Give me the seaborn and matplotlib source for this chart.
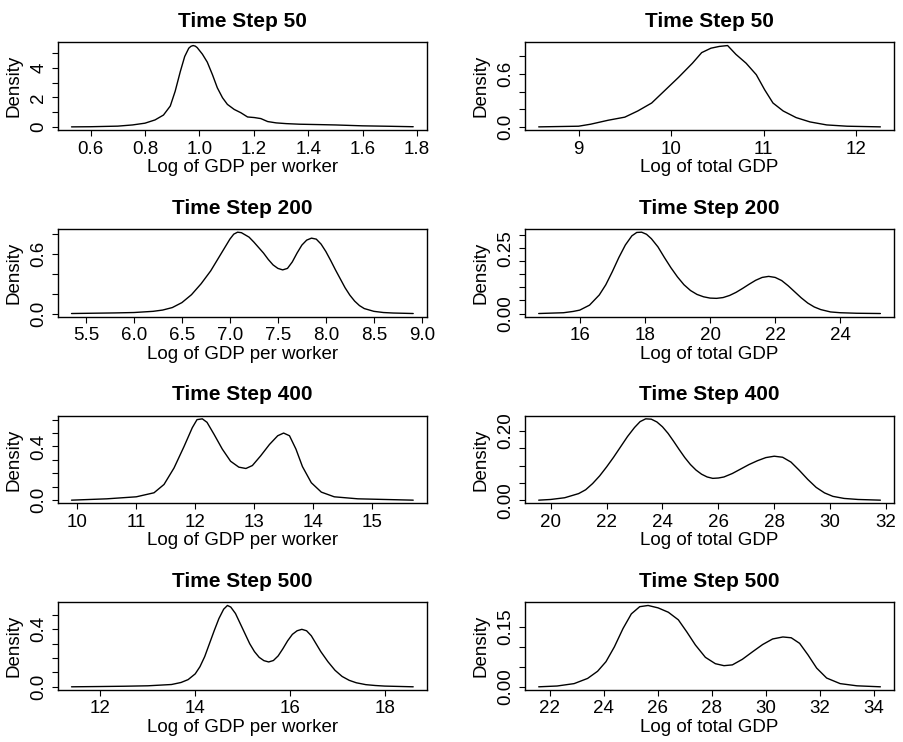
import pandas as pd
import seaborn as sns
import matplotlib
matplotlib.use("Agg")
import matplotlib.pyplot as plt

TITLES = ["Time Step 50", "Time Step 200", "Time Step 400", "Time Step 500"]
XLABEL_LEFT = "Log of GDP per worker"
XLABEL_RIGHT = "Log of total GDP"

# density curves: GDP per worker (left column)
PW50_X = [0.53, 0.60, 0.70, 0.754, 0.80, 0.837, 0.868, 0.893, 0.911, 0.93, 0.946, 0.961,
          0.969, 0.977, 0.985, 0.992, 1.011, 1.029, 1.048, 1.066, 1.085, 1.103, 1.128, 1.152,
          1.177, 1.202, 1.226, 1.251, 1.282, 1.319, 1.368, 1.45, 1.50, 1.60, 1.70, 1.786]
PW50_Y = [0.0, 0.01, 0.05, 0.13, 0.25, 0.47, 0.80, 1.41, 2.41, 3.75, 4.76, 5.32,
          5.45, 5.50, 5.46, 5.36, 4.92, 4.38, 3.53, 2.64, 1.97, 1.52, 1.18, 0.96,
          0.67, 0.63, 0.56, 0.36, 0.27, 0.22, 0.18, 0.15, 0.13, 0.07, 0.04, 0.01]

PW200_X = [5.35, 5.5, 5.8, 6.0, 6.2, 6.3, 6.4, 6.5, 6.6, 6.7, 6.8, 6.9,
           6.95, 7.0, 7.04, 7.08, 7.12, 7.2, 7.25, 7.3, 7.35, 7.4, 7.45, 7.5,
           7.55, 7.6, 7.65, 7.7, 7.75, 7.8, 7.85, 7.9, 7.95, 8.0, 8.05, 8.1,
           8.15, 8.2, 8.25, 8.3, 8.35, 8.4, 8.5, 8.6, 8.7, 8.91]
PW200_Y = [0.0, 0.002, 0.006, 0.01, 0.022, 0.035, 0.06, 0.11, 0.19, 0.30, 0.43, 0.59,
           0.67, 0.75, 0.80, 0.82, 0.815, 0.77, 0.72, 0.665, 0.61, 0.545, 0.49, 0.455,
           0.44, 0.455, 0.52, 0.61, 0.69, 0.74, 0.76, 0.75, 0.70, 0.625, 0.535, 0.44,
           0.35, 0.26, 0.185, 0.125, 0.08, 0.05, 0.022, 0.01, 0.005, 0.0]

PW400_X = [9.90, 10.5, 11.0, 11.30, 11.47, 11.64, 11.81, 11.95, 12.03, 12.12, 12.20, 12.32,
           12.46, 12.60, 12.74, 12.86, 12.97, 13.11, 13.26, 13.40, 13.50, 13.60, 13.71, 13.82,
           13.97, 14.14, 14.36, 14.76, 15.70]
PW400_Y = [0.0, 0.01, 0.025, 0.055, 0.117, 0.24, 0.40, 0.54, 0.60, 0.606, 0.58, 0.49,
           0.38, 0.29, 0.246, 0.236, 0.258, 0.33, 0.415, 0.48, 0.50, 0.48, 0.38, 0.25,
           0.13, 0.06, 0.025, 0.01, 0.0]

PW500_X = [11.39, 12.0, 12.5, 13.0, 13.5, 13.7, 13.85, 14.0, 14.1, 14.2, 14.3, 14.4,
           14.5, 14.6, 14.68, 14.75, 14.85, 14.95, 15.05, 15.15, 15.25, 15.35, 15.45, 15.55,
           15.65, 15.75, 15.85, 15.95, 16.05, 16.15, 16.25, 16.35, 16.45, 16.55, 16.65, 16.8,
           16.95, 17.1, 17.25, 17.4, 17.6, 17.8, 18.0, 18.6]
PW500_Y = [0.0, 0.002, 0.004, 0.007, 0.016, 0.03, 0.05, 0.09, 0.14, 0.21, 0.30, 0.39,
           0.475, 0.54, 0.566, 0.555, 0.51, 0.44, 0.37, 0.30, 0.245, 0.205, 0.182, 0.173,
           0.183, 0.215, 0.265, 0.32, 0.365, 0.39, 0.40, 0.39, 0.355, 0.30, 0.245, 0.175,
           0.115, 0.072, 0.045, 0.028, 0.015, 0.009, 0.005, 0.0]

# density curves: total GDP (right column)
TG50_X = [8.57, 9.0, 9.13, 9.32, 9.50, 9.64, 9.79, 9.93, 10.08, 10.23, 10.33, 10.43,
          10.52, 10.61, 10.70, 10.81, 10.92, 11.01, 11.10, 11.21, 11.35, 11.50, 11.68, 11.90,
          12.26]
TG50_Y = [0.0, 0.0075, 0.03, 0.075, 0.11, 0.18, 0.27, 0.41, 0.56, 0.72, 0.84, 0.89,
          0.91, 0.92, 0.82, 0.72, 0.59, 0.42, 0.27, 0.18, 0.105, 0.056, 0.022, 0.0075,
          0.0]

TG200_X = [14.74, 15.5, 15.8, 16.0, 16.3, 16.6, 16.8, 17.0, 17.2, 17.4, 17.6, 17.75,
           17.9, 18.05, 18.2, 18.4, 18.6, 18.8, 19.0, 19.2, 19.4, 19.6, 19.8, 20.0,
           20.2, 20.4, 20.6, 20.8, 21.0, 21.2, 21.4, 21.6, 21.8, 22.0, 22.2, 22.4,
           22.6, 22.8, 23.0, 23.2, 23.4, 23.7, 24.0, 24.5, 25.23]
TG200_Y = [0.0, 0.003, 0.008, 0.013, 0.032, 0.071, 0.11, 0.16, 0.214, 0.262, 0.297, 0.31,
           0.311, 0.303, 0.286, 0.255, 0.214, 0.175, 0.14, 0.11, 0.088, 0.073, 0.064, 0.059,
           0.058, 0.061, 0.069, 0.081, 0.096, 0.112, 0.127, 0.138, 0.142, 0.138, 0.126, 0.106,
           0.083, 0.06, 0.04, 0.025, 0.015, 0.006, 0.003, 0.001, 0.0]

TG400_X = [19.57, 20.0, 20.5, 21.0, 21.25, 21.5, 21.75, 22.0, 22.25, 22.5, 22.75, 23.0,
           23.2, 23.4, 23.6, 23.8, 24.0, 24.2, 24.4, 24.6, 24.8, 25.0, 25.2, 25.4,
           25.6, 25.8, 26.0, 26.2, 26.5, 26.8, 27.1, 27.4, 27.7, 28.0, 28.3, 28.6,
           28.9, 29.2, 29.5, 29.8, 30.1, 30.5, 31.0, 31.8]
TG400_Y = [0.0, 0.002, 0.007, 0.019, 0.03, 0.048, 0.07, 0.096, 0.124, 0.154, 0.184, 0.21,
           0.227, 0.235, 0.234, 0.226, 0.212, 0.193, 0.17, 0.146, 0.123, 0.103, 0.087, 0.075,
           0.067, 0.063, 0.064, 0.067, 0.077, 0.09, 0.103, 0.114, 0.123, 0.127, 0.124, 0.11,
           0.086, 0.06, 0.037, 0.021, 0.011, 0.005, 0.002, 0.0]

TG500_X = [21.59, 22.27, 22.9, 23.4, 23.77, 24.08, 24.39, 24.71, 25.02, 25.33, 25.64, 26.01,
           26.39, 26.76, 27.07, 27.39, 27.76, 28.13, 28.45, 28.76, 29.13, 29.51, 29.88, 30.25,
           30.63, 30.94, 31.25, 31.56, 31.88, 32.25, 32.75, 33.37, 34.24]
TG500_Y = [0.0, 0.002, 0.008, 0.021, 0.039, 0.063, 0.10, 0.146, 0.183, 0.201, 0.204, 0.198,
           0.187, 0.168, 0.138, 0.105, 0.074, 0.058, 0.053, 0.055, 0.069, 0.088, 0.106, 0.12,
           0.125, 0.123, 0.109, 0.080, 0.047, 0.022, 0.008, 0.0025, 0.0]

# axis ticks and labels (R drops overlapping y labels)
PW_XTICKS = [
    [0.6, 0.8, 1.0, 1.2, 1.4, 1.6, 1.8],
    [5.5, 6.0, 6.5, 7.0, 7.5, 8.0, 8.5, 9.0],
    [10, 11, 12, 13, 14, 15],
    [12, 14, 16, 18],
]
PW_XLABELS = [
    ["0.6", "0.8", "1.0", "1.2", "1.4", "1.6", "1.8"],
    ["5.5", "6.0", "6.5", "7.0", "7.5", "8.0", "8.5", "9.0"],
    ["10", "11", "12", "13", "14", "15"],
    ["12", "14", "16", "18"],
]
PW_YTICKS = [
    [0, 1, 2, 3, 4, 5],
    [0.0, 0.2, 0.4, 0.6, 0.8],
    [0.0, 0.1, 0.2, 0.3, 0.4, 0.5, 0.6],
    [0.0, 0.1, 0.2, 0.3, 0.4, 0.5],
]
PW_YLABELS = [
    ["0", "", "2", "", "4", ""],
    ["0.0", "", "", "0.6", ""],
    ["0.0", "", "", "", "0.4", "", ""],
    ["0.0", "", "", "", "0.4", ""],
]
TG_XTICKS = [
    [9, 10, 11, 12],
    [16, 18, 20, 22, 24],
    [20, 22, 24, 26, 28, 30, 32],
    [22, 24, 26, 28, 30, 32, 34],
]
TG_XLABELS = [
    ["9", "10", "11", "12"],
    ["16", "18", "20", "22", "24"],
    ["20", "22", "24", "26", "28", "30", "32"],
    ["22", "24", "26", "28", "30", "32", "34"],
]
TG_YTICKS = [
    [0.0, 0.2, 0.4, 0.6, 0.8],
    [0.0, 0.05, 0.10, 0.15, 0.20, 0.25, 0.30],
    [0.0, 0.05, 0.10, 0.15, 0.20],
    [0.0, 0.05, 0.10, 0.15],
]
TG_YLABELS = [
    ["0.0", "", "", "0.6", ""],
    ["0.00", "", "", "", "", "0.25", ""],
    ["0.00", "", "", "", "0.20"],
    ["0.00", "", "", "0.15"],
]

PW_CURVES = [(PW50_X, PW50_Y), (PW200_X, PW200_Y), (PW400_X, PW400_Y), (PW500_X, PW500_Y)]
TG_CURVES = [(TG50_X, TG50_Y), (TG200_X, TG200_Y), (TG400_X, TG400_Y), (TG500_X, TG500_Y)]


def r_limits(values):
    # R pads the data range by 4% on each side
    lo, hi = min(values), max(values)
    pad = 0.04 * (hi - lo)
    return lo - pad, hi + pad


def draw_panel(ax, xs, ys, title, xlabel, xticks, xlabels, yticks, ylabels):
    df = pd.DataFrame({"x": xs, "y": ys})
    sns.lineplot(data=df, x="x", y="y", ax=ax, color="black", linewidth=1.0,
                 sort=False, estimator=None)
    ax.set_xticks(xticks)
    ax.set_xticklabels(xlabels)
    ax.set_yticks(yticks)
    ax.set_yticklabels(ylabels, rotation=90, va="center")
    ax.set_xlim(*r_limits(xs))
    ax.set_ylim(*r_limits(ys))
    ax.set_title(title, fontsize=15, fontweight="bold", pad=11, color="black")
    ax.set_xlabel(xlabel, fontsize=13.5, labelpad=1, color="black")
    ax.set_ylabel("Density", fontsize=13.5, labelpad=6, color="black")
    ax.tick_params(axis="both", direction="out", length=4.5, width=0.8,
                   labelsize=13.5, pad=3, color="black", labelcolor="black")
    for side in ax.spines.values():
        side.set_visible(True)
        side.set_linewidth(1.0)
        side.set_color("black")


def main():
    sns.set_style("ticks")
    plt.rcParams["font.family"] = ["Liberation Sans", "DejaVu Sans"]
    plt.rcParams["text.color"] = "black"

    fig, axes = plt.subplots(4, 2, figsize=(9.04, 7.42), dpi=100)
    fig.subplots_adjust(left=0.064, right=0.989, top=0.943, bottom=0.070,
                        wspace=0.266, hspace=1.125)

    for i in range(4):
        xs, ys = PW_CURVES[i]
        draw_panel(axes[i, 0], xs, ys, TITLES[i], XLABEL_LEFT,
                   PW_XTICKS[i], PW_XLABELS[i], PW_YTICKS[i], PW_YLABELS[i])
        xs, ys = TG_CURVES[i]
        draw_panel(axes[i, 1], xs, ys, TITLES[i], XLABEL_RIGHT,
                   TG_XTICKS[i], TG_XLABELS[i], TG_YTICKS[i], TG_YLABELS[i])

    fig.savefig("out.png", dpi=100)
    plt.close(fig)


if __name__ == "__main__":
    main()
